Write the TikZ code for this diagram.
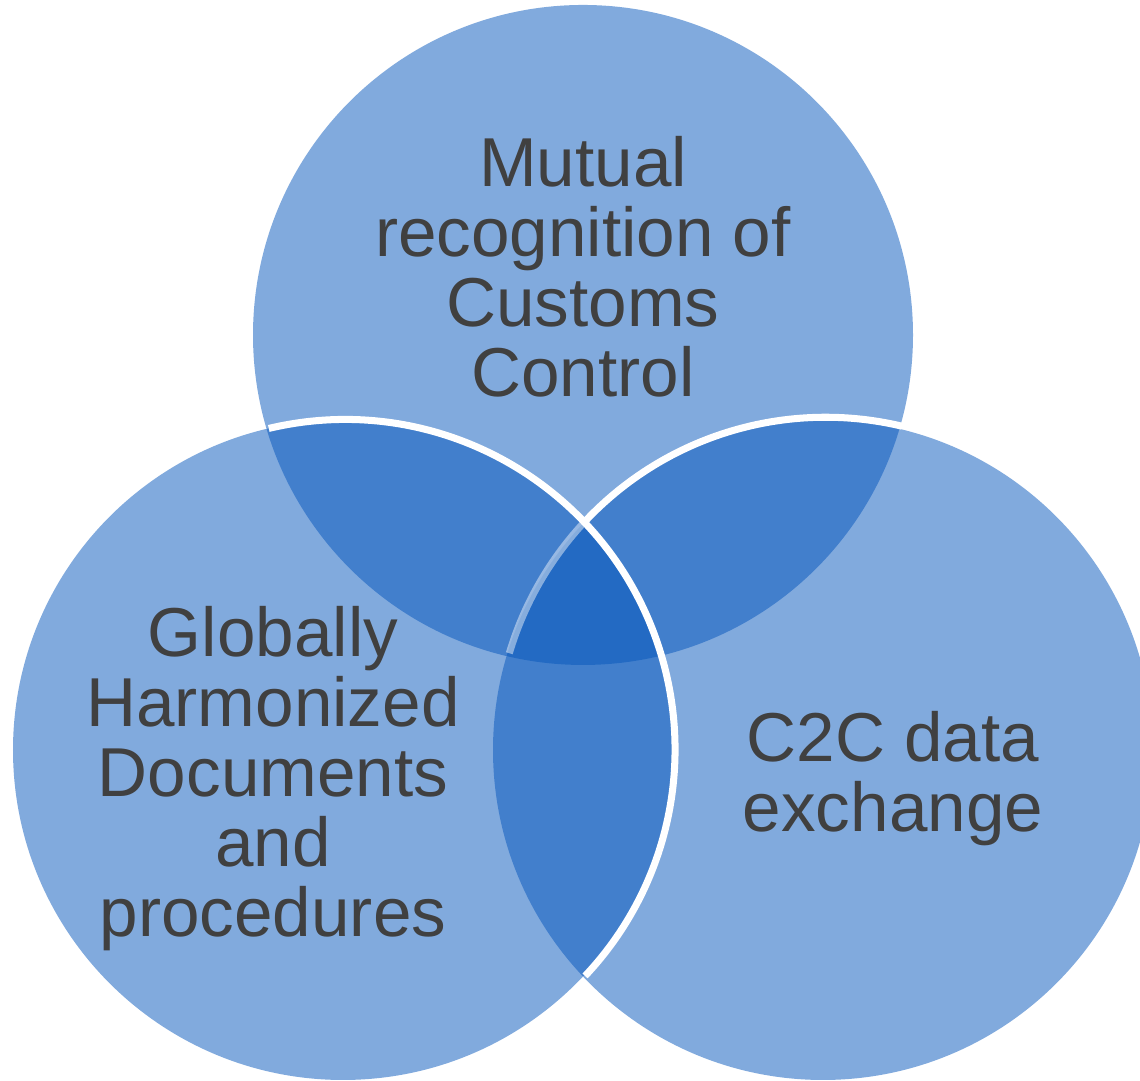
\documentclass[tikz,border=0pt]{standalone}
\usepackage{fontspec}
\setmainfont{Liberation Sans}
\definecolor{vennblue}{RGB}{4,85,187}
\definecolor{labelgray}{RGB}{64,64,64}
\tikzset{
  setcircle/.style={circle,fill=vennblue,fill opacity=0.5,minimum size=6.6cm,inner sep=0pt,outer sep=0pt},
  setlabel/.style={text=labelgray,align=center,inner sep=0pt,font=\fontsize{19.7}{19.9}\selectfont},
  rim/.style={white,line width=2pt}
}
\begin{document}
\begin{tikzpicture}
\useasboundingbox (0,0) rectangle (11.40,10.81);
\node[setcircle] (mutual) at (5.83,7.46) {};
\node[setcircle] (ghd) at (3.43,3.31) {};
\node[setcircle] (ctoc) at (8.23,3.31) {};
% white rims where the circles cross
\draw[rim,opacity=0.45] (ctoc.136.66) arc[start angle=136.66,end angle=163.45,radius=3.3];
\draw[rim] (ghd.103.37) arc[start angle=103.37,end angle=-43.34,radius=3.3];
\draw[rim] (ctoc.136.66) arc[start angle=136.66,end angle=76.63,radius=3.3];
\node[setlabel] (mutualtext) at (5.83,8.14) {Mutual\\recognition of\\Customs\\Control};
\node[setlabel] (ghdtext) at (2.73,3.02) {Globally\\Harmonized\\Documents\\and\\procedures};
\node[setlabel] (ctoctext) at (8.93,3.02) {C2C data\\exchange};
\end{tikzpicture}
\end{document}
